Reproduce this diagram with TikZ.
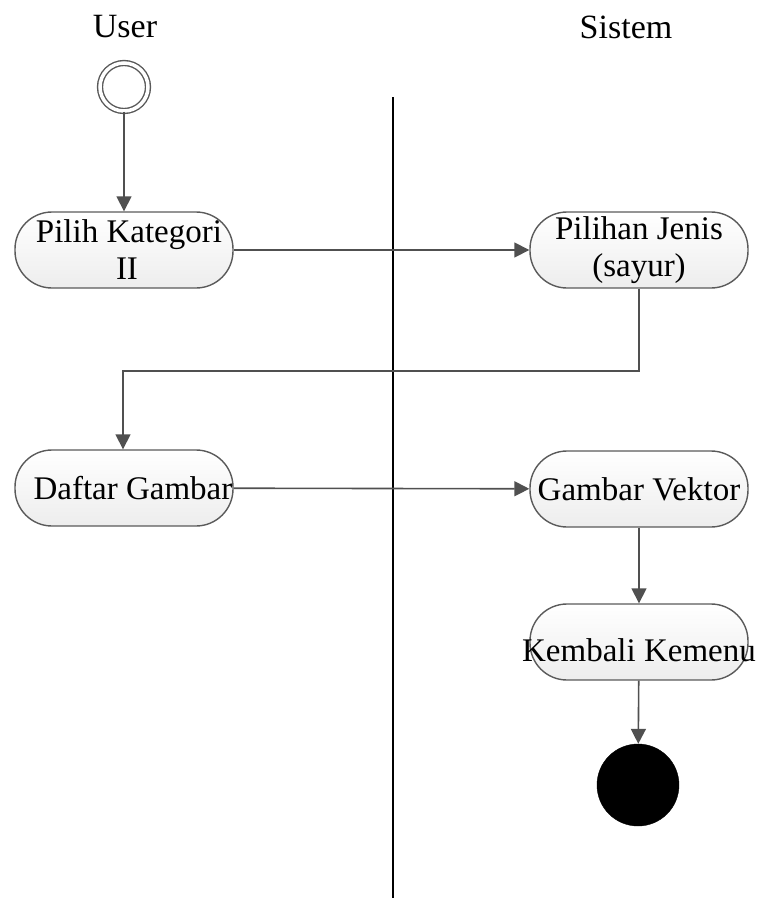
\documentclass[tikz,border=0pt]{standalone}
\usepackage{fontspec}
\setmainfont{Liberation Serif}
\usetikzlibrary{arrows.meta}

\definecolor{edgegray}{HTML}{505050}
\definecolor{boxline}{HTML}{5A5A5A}

\tikzset{
  act/.style={draw=boxline, line width=1.4pt, rounded corners=37pt,
    top color=white, bottom color=gray!14,
    minimum width=218pt, minimum height=76pt, inner sep=0pt,
    align=center, font=\fontsize{33}{37}\selectfont},
  flow/.style={draw=edgegray, line width=1.6pt,
    -{Triangle[length=15pt,width=15pt]}},
  lane/.style={font=\fontsize{34}{37}\selectfont},
  startnode/.style={circle, draw=gray!70!black, line width=1.4pt,
    double=white, double distance=3.5pt, fill=white,
    minimum size=48pt, inner sep=0pt},
  endnode/.style={circle, fill=black, draw=black,
    minimum size=82pt, inner sep=0pt}
}

\begin{document}
\begin{tikzpicture}[x=1pt, y=-1pt]
  \useasboundingbox (0,0) rectangle (766,898);

  % swimlane headings and divider
  \node[lane] (user) at (125,27) {User};
  \node[lane] (sistem) at (626,27) {Sistem};
  \coordinate (divtop) at (393,97);
  \coordinate (divbot) at (393,898);
  \draw[black, line width=1.6pt] (divtop) -- (divbot);

  % activities
  \node[act] (pilih) at (124,250) {\hspace*{10pt}Pilih Kategori\\\hspace*{6pt}II};
  \node[act] (jenis) at (639,250) {Pilihan Jenis\\(sayur)};
  \node[act] (daftar) at (124,488) {\makebox[0pt]{\hspace*{18pt}Daftar Gambar}};
  \node[act] (vektor) at (639,489) {Gambar Vektor};
  \node[act] (kembali) at (639,642) {\raisebox{-19pt}[0pt][0pt]{\makebox[0pt]{Kembali Kemenu}}};
  \node[startnode] (start) at (124,87) {};
  \node[endnode] (final) at (638,785) {};

  % control flow
  \draw[flow] (start) -- (pilih);
  \draw[flow] (pilih) -- (jenis);
  \draw[flow] (jenis.south) -- ++(0,82) -| ([xshift=-1pt]daftar.north);
  \draw[flow] (daftar) -- (vektor);
  \draw[flow] (vektor) -- (kembali);
  \draw[flow] (kembali) -- (final);
\end{tikzpicture}
\end{document}
